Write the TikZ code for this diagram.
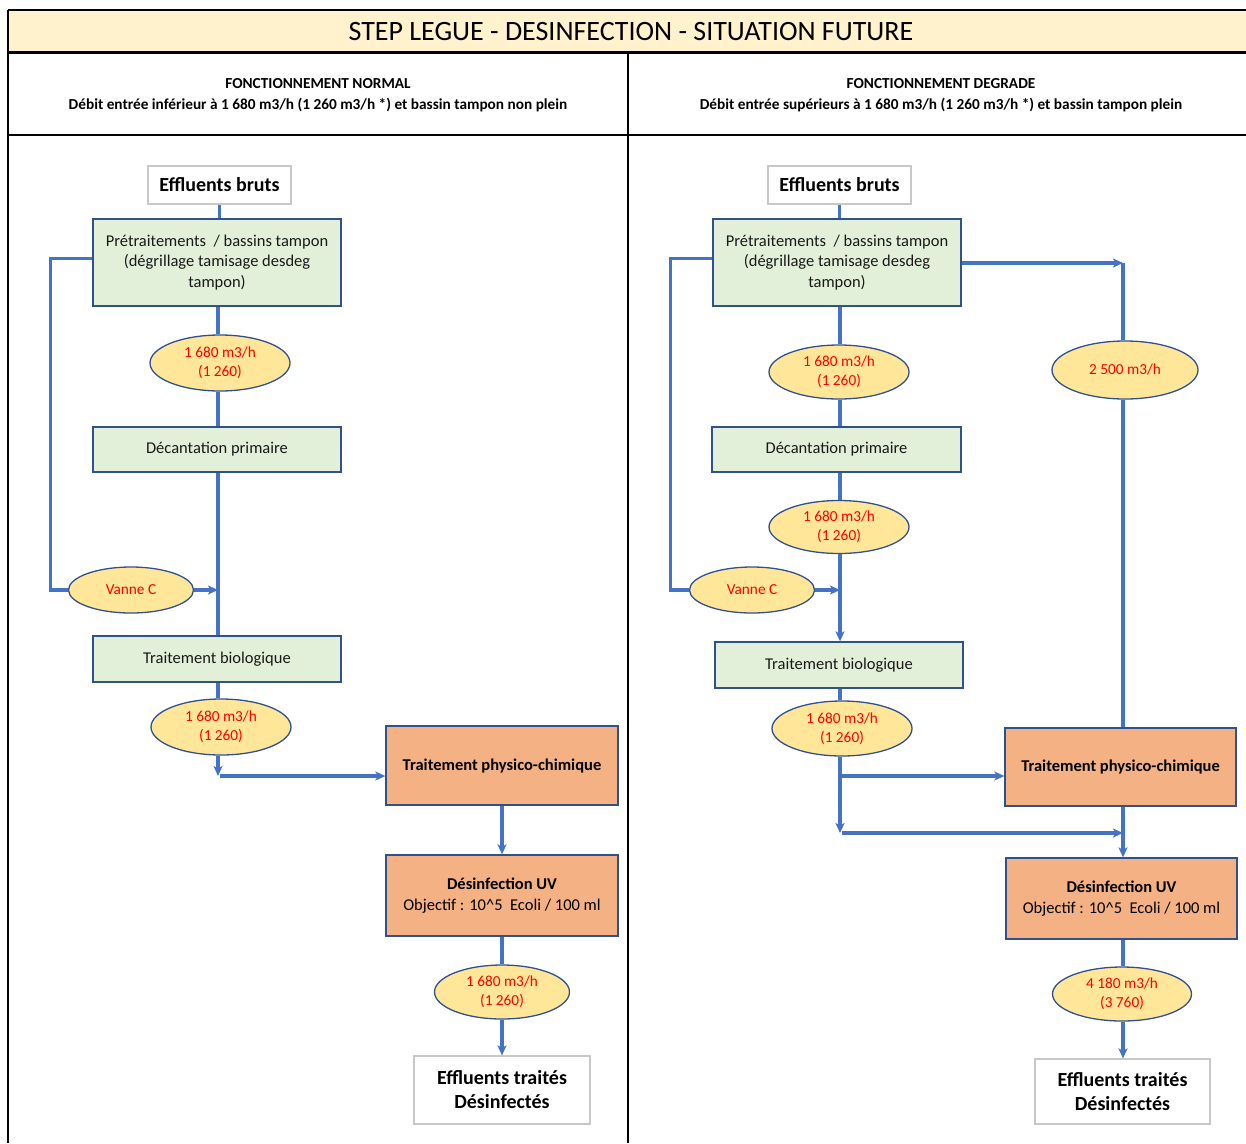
\documentclass[tikz,border=0pt]{standalone}
\usepackage{fontspec}
\setmainfont{Carlito}
\usetikzlibrary{shapes.geometric,arrows.meta}
\definecolor{titlefill}{HTML}{FFF2CC}
\definecolor{greenfill}{HTML}{E2F0D9}
\definecolor{orangefill}{HTML}{F4B183}
\definecolor{ellfill}{HTML}{FFE699}
\definecolor{boxline}{HTML}{2F528F}
\definecolor{flowblue}{HTML}{4472C4}
\definecolor{grayline}{HTML}{C8C8C8}
\definecolor{redtxt}{HTML}{FF0000}
\begin{document}
\begin{tikzpicture}[x=1pt,y=-1pt,
  frame/.style={line width=2.4pt,black},
  procbox/.style={rectangle,draw=boxline,line width=1.3pt,fill=greenfill,inner sep=0pt,align=center,
    font=\fontsize{16.5}{20.5}\selectfont,text=black!90},
  hotbox/.style={rectangle,draw=boxline,line width=1.3pt,fill=orangefill,inner sep=0pt,align=center,
    font=\fontsize{16.5}{21}\selectfont},
  endbox/.style={rectangle,draw=grayline,line width=1.2pt,fill=white,inner sep=0pt,align=center,
    font=\bfseries\fontsize{20}{24}\selectfont},
  flowell/.style={ellipse,draw=boxline,line width=1.3pt,fill=ellfill,inner sep=0pt,align=center,
    text=redtxt,font=\fontsize{15.3}{19}\selectfont},
  flow/.style={draw=flowblue,line width=3.2pt},
  flowarr/.style={flow,-{Stealth[length=10pt,width=9pt,inset=2.5pt]}},
  hdr/.style={align=center,font=\bfseries\fontsize{15.3}{21}\selectfont,inner sep=0pt},
]
\useasboundingbox (0,0) rectangle (1246,1143);
% frame
\fill[titlefill] (8,10) rectangle (1246,52);
\draw[frame] (8,10) -- (1246,10);
\draw[line width=3pt] (8,52) -- (1246,52);
\draw[frame] (8,135) -- (1246,135);
\draw[frame] (8,10) -- (8,1143);
\draw[frame] (628,52) -- (628,1143);
\node[inner sep=0pt,font=\fontsize{28}{30}\selectfont] (title) at (631,32) {STEP LEGUE - DESINFECTION - SITUATION FUTURE};
\node[hdr] (lhdr) at (318,95) {FONCTIONNEMENT NORMAL\\Débit entrée inférieur à 1 680 m3/h (1 260 m3/h *) et bassin tampon non plein};
\node[hdr] (rhdr) at (941,95) {FONCTIONNEMENT DEGRADE\\Débit entrée supérieurs à 1 680 m3/h (1 260 m3/h *) et bassin tampon plein};

% ---------- left panel ----------
\node[endbox,minimum width=143pt,minimum height=38pt] (lEB) at (219.5,185) {Effluents bruts};
\node[procbox,minimum width=248pt,minimum height=87pt] (lPre) at (217,262.5) {Prétraitements \ / bassins tampon\\(dégrillage tamisage desdeg\\tampon)};
\node[flowell,minimum width=140pt,minimum height=56pt] (lE1) at (220,363) {1 680 m3/h\\(1 260)};
\node[procbox,minimum width=248pt,minimum height=45pt] (lDec) at (217,449.5) {Décantation primaire};
\node[flowell,minimum width=125pt,minimum height=46pt] (lVan) at (131,590) {Vanne C};
\node[procbox,minimum width=248pt,minimum height=46pt] (lBio) at (217,659) {Traitement biologique};
\node[flowell,minimum width=140pt,minimum height=56pt] (lE2) at (221,727) {1 680 m3/h\\(1 260)};
\node[hotbox,minimum width=232pt,minimum height=79pt] (lPhy) at (502,765.5) {\bfseries Traitement physico-chimique};
\node[hotbox,minimum width=232pt,minimum height=81pt] (lUV) at (502,895.5) {\bfseries Désinfection UV\\Objectif : 10\^{}5 \ Ecoli / 100 ml};
\node[flowell,minimum width=135pt,minimum height=54pt] (lE3) at (502,992) {1 680 m3/h\\(1 260)};
\node[endbox,minimum width=176pt,minimum height=68pt] (lET) at (502,1090) {Effluents traités\\Désinfectés};
\coordinate (lJ) at (218,776);

\draw[flow] (lEB.south) -- (lEB.south |- lPre.north);
\draw[flow] (lJ |- lPre.south) -- (lJ |- lE1.north);
\draw[flow] (lJ |- lE1.south) -- (lJ |- lDec.north);
\draw[flow] (lJ |- lDec.south) -- (lJ |- lBio.north);
\draw[flow] ([yshift=4pt]lPre.west) -- ++(-42,0) |- (lVan.west);
\draw[flowarr] (lVan.east) -- (lVan.east -| lJ);
\draw[flow] (lJ |- lBio.south) -- (lJ |- lE2.north);
\draw[flowarr] (lJ |- lE2.south) -- (lJ);
\draw[flowarr] ([xshift=2pt]lJ) -- (lJ -| lPhy.west);
\draw[flowarr] (lPhy.south) -- (lUV.north);
\draw[flow] (lUV.south) -- (lE3.north);
\draw[flowarr] (lE3.south) -- (lET.north);

% ---------- right panel ----------
\node[endbox,minimum width=143pt,minimum height=38pt] (rEB) at (839.5,185) {Effluents bruts};
\node[procbox,minimum width=248pt,minimum height=87pt] (rPre) at (837,262.5) {Prétraitements \ / bassins tampon\\(dégrillage tamisage desdeg\\tampon)};
\node[flowell,minimum width=140pt,minimum height=54pt] (rE1) at (839,372) {1 680 m3/h\\(1 260)};
\node[procbox,minimum width=249pt,minimum height=45pt] (rDec) at (836.5,449.5) {Décantation primaire};
\node[flowell,minimum width=140pt,minimum height=53pt] (rE2) at (839,527) {1 680 m3/h\\(1 260)};
\node[flowell,minimum width=125pt,minimum height=46pt] (rVan) at (752,590) {Vanne C};
\node[procbox,minimum width=248pt,minimum height=46pt] (rBio) at (839,665) {Traitement biologique};
\node[flowell,minimum width=140pt,minimum height=55pt] (rE3) at (842,728.5) {1 680 m3/h\\(1 260)};
\node[flowell,minimum width=146pt,minimum height=58pt] (rE25) at (1125,370) {2 500 m3/h};
\node[hotbox,minimum width=231pt,minimum height=78pt] (rPhy) at (1120.5,767) {\bfseries Traitement physico-chimique};
\node[hotbox,minimum width=231pt,minimum height=81pt] (rUV) at (1121.5,898.5) {\bfseries Désinfection UV\\Objectif : 10\^{}5 \ Ecoli / 100 ml};
\node[flowell,minimum width=139pt,minimum height=54pt] (rE4) at (1122,994) {4 180 m3/h\\(3 760)};
\node[endbox,minimum width=175pt,minimum height=65pt] (rET) at (1122.5,1091.5) {Effluents traités\\Désinfectés};
\coordinate (rJ1) at (840,776);
\coordinate (rJ2) at (840,833);
\coordinate (rK) at (1123,263);

\draw[flow] (rEB.south) -- (rEB.south |- rPre.north);
\draw[flow] (rJ1 |- rPre.south) -- (rJ1 |- rE1.north);
\draw[flow] (rJ1 |- rE1.south) -- (rJ1 |- rDec.north);
\draw[flow] (rJ1 |- rDec.south) -- (rJ1 |- rE2.north);
\draw[flowarr] (rJ1 |- rE2.south) -- (rJ1 |- rBio.north);
\draw[flow] ([yshift=4pt]rPre.west) -- ++(-42,0) |- (rVan.west);
\draw[flowarr] (rVan.east) -- (rVan.east -| rJ1);
\draw[flow] (rJ1 |- rBio.south) -- (rJ1 |- rE3.north);
\draw[flowarr] (rJ1 |- rE3.south) -- (rJ2);
\draw[flowarr] (rJ1) -- (rJ1 -| rPhy.west);
\draw[flowarr] ([xshift=2pt]rJ2) -- (rJ2 -| rK);
\draw[flowarr] (rPre.east |- rK) -- (rK);
\draw[flow] (rK) -- (rK |- rE25.north);
\draw[flow] (rK |- rE25.south) -- (rK |- rPhy.north);
\draw[flowarr] (rK |- rPhy.south) -- (rK |- rUV.north);
\draw[flow] (rK |- rUV.south) -- (rK |- rE4.north);
\draw[flowarr] (rK |- rE4.south) -- (rK |- rET.north);
\end{tikzpicture}
\end{document}
